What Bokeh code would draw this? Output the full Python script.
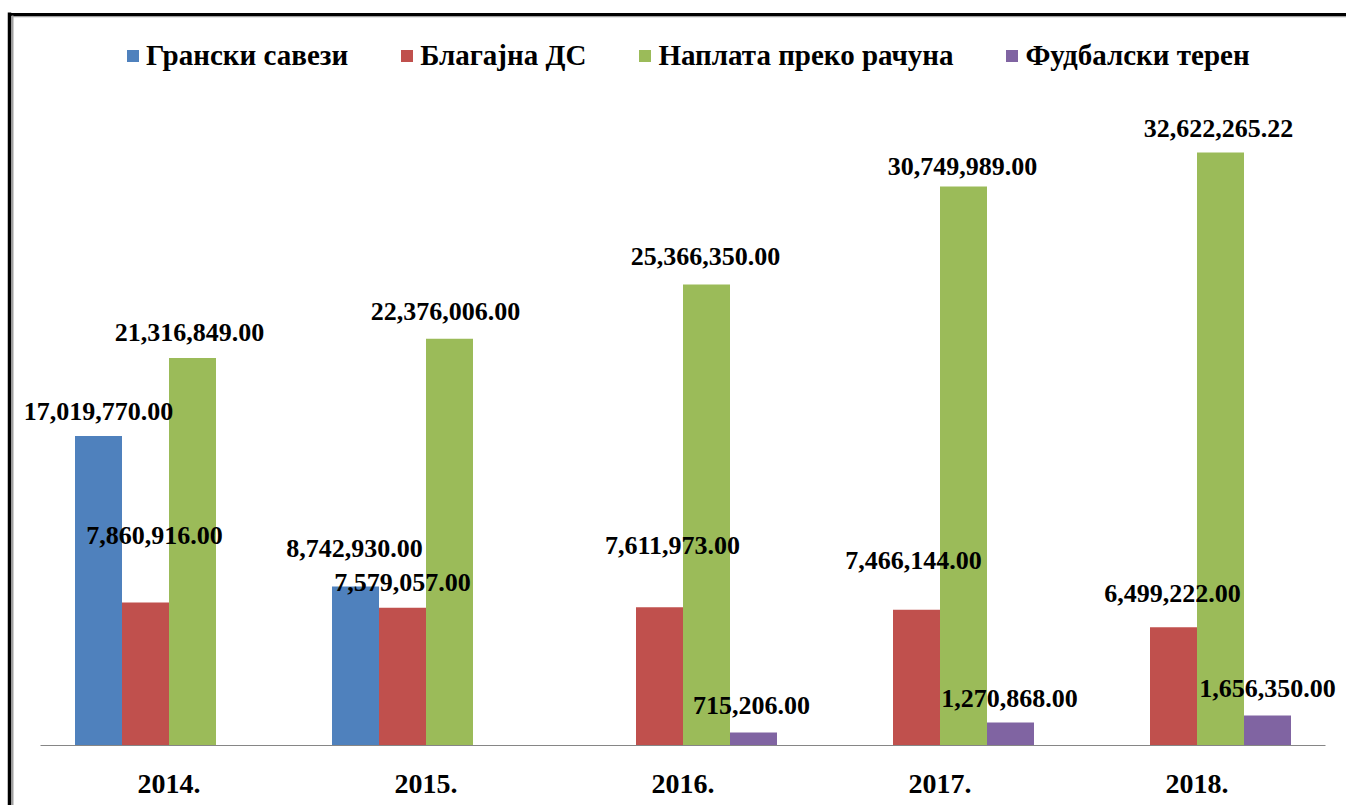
from bokeh.plotting import figure
from bokeh.models import ColumnDataSource, Range1d, LinearAxis, FixedTicker, Legend, LegendItem
from bokeh.core.properties import value
from bokeh.embed import file_html
from bokeh.resources import INLINE

# ---- data ----
years = ["2014.", "2015.", "2016.", "2017.", "2018."]
series_names = ["Грански савези", "Благајна ДС", "Наплата преко рачуна", "Фудбалски терен"]
granski = [17019770.00, 8742930.00, 0.0, 0.0, 0.0]
blagajna = [7860916.00, 7579057.00, 7611973.00, 7466144.00, 6499222.00]
naplata = [21316849.00, 22376006.00, 25366350.00, 30749989.00, 32622265.22]
fudbal = [0.0, 0.0, 715206.00, 1270868.00, 1656350.00]

# ---- style ----
colors = ["#4F81BD", "#C0504D", "#9BBB59", "#8064A2"]
label_dx = [[0, -1, 0, 0, 0], [9, 0, 13, -3, -1], [-3, -4, -1, -1, -2], [0, 0, -2, -1, 0]]
label_dy = [[-25, -38, 0, 0, 0], [-67, -25, -62, -49, -34], [-26, -27, -28, -20, -24], [0, 0, -27, -24, -27]]
SERIF = "Liberation Serif"

W, H = 1346, 805
PX_CAT = 257.0          # pixels per category
X0_PX = 168.5           # pixel of first category centre
BASE_PX = 745.0         # pixel of value 0
PX_PER_UNIT = 593.0 / 32622265.22
bar_w = 47.0 / PX_CAT

x_range = Range1d(-X0_PX / PX_CAT, (W - X0_PX) / PX_CAT)
y_range = Range1d(-(H - BASE_PX) / PX_PER_UNIT, BASE_PX / PX_PER_UNIT)

p = figure(width=W, height=H, x_range=x_range, y_range=y_range,
           output_backend="svg", toolbar_location=None,
           x_axis_location=None, y_axis_location=None,
           min_border=0, min_border_left=0, min_border_right=0,
           min_border_top=0, min_border_bottom=0)
p.outline_line_color = None
p.grid.visible = False
p.background_fill_color = "white"
p.border_fill_color = "white"

all_series = [granski, blagajna, naplata, fudbal]
items = []
label_sources = []
for k, (name, vals, col) in enumerate(zip(series_names, all_series, colors)):
    off = (k - 1.5) * bar_w
    xs = [i + off for i in range(len(years))]
    src = ColumnDataSource(dict(x=xs, top=vals))
    r = p.vbar(x="x", top="top", width=bar_w, source=src, fill_color=col, line_color=None)
    items.append(LegendItem(label=name, renderers=[r]))
    lx, ly, lt, ldx, ldy = [], [], [], [], []
    for i, v in enumerate(vals):
        if v > 0:
            lx.append(xs[i]); ly.append(v); lt.append(f"{v:,.2f}")
            ldx.append(label_dx[k][i]); ldy.append(label_dy[k][i])
    label_sources.append(ColumnDataSource(dict(x=lx, y=ly, t=lt, dx=ldx, dy=ldy)))

for lsrc in label_sources:
    p.text(x="x", y="y", text="t", x_offset="dx", y_offset="dy", source=lsrc,
           text_font=value(SERIF), text_font_style="bold", text_font_size="26px",
           text_align="center", text_baseline="middle", text_color="black")

# x axis (fixed at zero)
xaxis = LinearAxis(fixed_location=0, bounds=(-0.5, len(years) - 0.5),
                   ticker=FixedTicker(ticks=list(range(len(years)))),
                   major_label_overrides={i: y for i, y in enumerate(years)})
xaxis.axis_line_color = "#868686"
xaxis.axis_line_width = 1
xaxis.major_tick_out = 0
xaxis.major_tick_in = 0
xaxis.minor_tick_out = 0
xaxis.minor_tick_in = 0
xaxis.major_label_standoff = 29
xaxis.major_label_text_font = SERIF
xaxis.major_label_text_font_style = "bold"
xaxis.major_label_text_font_size = "28px"
xaxis.major_label_text_color = "black"
p.add_layout(xaxis, "below")

# frame lines (decoration)
def border_axis(loc, bounds, color, width):
    a = LinearAxis(fixed_location=loc, bounds=bounds, ticker=FixedTicker(ticks=[]))
    a.axis_line_color = color
    a.axis_line_width = width
    a.major_tick_out = 0
    a.major_tick_in = 0
    a.minor_tick_out = 0
    a.minor_tick_in = 0
    a.major_label_text_font_size = "0px"
    return a

def xd(px):
    return (px - X0_PX) / PX_CAT

def yd(px):
    return (BASE_PX - px) / PX_PER_UNIT

p.add_layout(border_axis(xd(12), (yd(H), yd(15)), "#A0A0A0", 2), "left")
p.add_layout(border_axis(xd(9), (yd(H), yd(12)), "black", 3.5), "left")
p.add_layout(border_axis(yd(15.5), (xd(12), xd(W)), "#A0A0A0", 1.5), "above")
p.add_layout(border_axis(yd(13.5), (xd(7.5), xd(W)), "black", 3), "above")

legend = Legend(items=items, orientation="horizontal", location=(125, H - 72),
                glyph_width=15, glyph_height=15, label_standoff=6, spacing=51,
                padding=0, margin=0, border_line_color=None, background_fill_alpha=0,
                label_text_font=SERIF, label_text_font_style="bold",
                label_text_font_size="29px", label_text_color="black")
p.add_layout(legend, "center")

open("out.html", "w").write(file_html(p, INLINE))
